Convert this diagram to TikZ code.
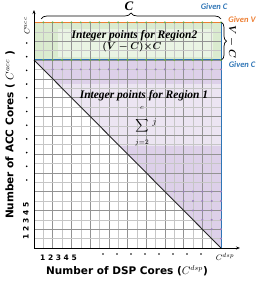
\documentclass[tikz,border=0pt]{standalone}
\usepackage{fontspec}
\usepackage{amsmath}
\setmainfont{Liberation Serif}
\newfontfamily\dvs{DejaVu Sans}
\newfontfamily\carl{Carlito}
\usetikzlibrary{arrows.meta,decorations.pathreplacing}
\definecolor{myblue}{HTML}{2E75B6}
\definecolor{myorange}{HTML}{ED7D31}
\definecolor{mygreen}{HTML}{DAEBCF}
\definecolor{mypurple}{HTML}{DDD0E9}
\definecolor{gdot}{HTML}{70AD47}
\definecolor{pdot}{HTML}{9A7FBE}
\tikzset{
  gdark/.style={draw=gray!85,line width=0.45pt},
  glight/.style={draw=gray!45,line width=0.45pt},
  axisline/.style={draw=black,line width=0.9pt,-{Stealth[length=4pt,width=3pt]}},
  givenlbl/.style={font=\carl\bfseries\itshape\fontsize{8.5}{9}\selectfont,inner sep=0pt},
  regionlbl/.style={font=\bfseries\itshape\fontsize{11.5}{13}\selectfont,inner sep=0pt},
  axislbl/.style={font=\dvs\bfseries\fontsize{10.5}{12}\selectfont,inner sep=0pt},
  ticklbl/.style={font=\dvs\bfseries\fontsize{7.5}{8}\selectfont,inner sep=0pt},
  sumpart/.style={inner sep=0pt,font=\fontsize{9.5}{11}\selectfont},
  bracestyle/.style={decorate,line width=0.7pt}
}
\begin{document}
\begin{tikzpicture}[x=1pt,y=-1pt]
\useasboundingbox (0,0) rectangle (262,283);
% region fills
\fill[mygreen] (34,22.4) rectangle (221,60);
\fill[mypurple] (34,60) -- (221,60) -- (221,248) -- cycle;
\fill[white,opacity=0.45] (58,29) rectangle (213,57);
\begin{scope}
  \clip (34,60) -- (221,60) -- (221,248) -- cycle;
  \fill[white,opacity=0.45] (34,84) rectangle (221,146);
\end{scope}
% grid
\foreach \i in {0,2,...,20}{\draw[gdark] ({34+\i*9.35},248) -- ({34+\i*9.35},22.4);}
\foreach \i in {1,3,...,19}{\draw[glight] ({34+\i*9.35},248) -- ({34+\i*9.35},22.4);}
\foreach \j in {0,2,...,24}{\draw[gdark] (34,{248-\j*9.4}) -- (221,{248-\j*9.4});}
\foreach \j in {1,3,...,23}{\draw[glight] (34,{248-\j*9.4}) -- (221,{248-\j*9.4});}
% diagonal
\coordinate (dA) at (34,60);
\coordinate (dB) at (221,248);
\draw[black!85,line width=0.9pt] (dA) -- (dB);
% coloured lines
\coordinate (oL) at (34,22.4);
\coordinate (oR) at (221,22.4);
\coordinate (bL) at (34,60);
\coordinate (bR) at (221,60);
\coordinate (vB) at (221,248);
\draw[myorange,line width=1pt] (oL) -- (oR);
\draw[myblue,line width=1pt] (bL) -- (bR);
\draw[myblue,line width=1pt] (oR) -- (vB);
% dots
\foreach \i in {1,...,20}{
  \fill[gdot] ({34+\i*9.35},22.4) circle (1.1);
  \fill[gdot] ({34+\i*9.35},60) circle (1.1);
}
\foreach \i in {2,...,20}{\fill[pdot] ({34+\i*9.35},{248-19*9.4}) circle (1.1);}
\foreach \j in {1,...,6}{
  \pgfmathtruncatemacro\s{21-\j}
  \foreach \i in {\s,...,20}{\fill[pdot] ({34+\i*9.35},{248-\j*9.4}) circle (1.1);}
}
% axes
\coordinate (O) at (34,248);
\coordinate (xe) at (240,248);
\coordinate (ye) at (34,10);
\draw[axisline] (O) -- (xe);
\draw[axisline] (O) -- (ye);
% braces
\coordinate (tb1) at (41,19);
\coordinate (tb2) at (221,19);
\draw[bracestyle,decoration={brace,amplitude=6pt}] (tb1) -- (tb2);
\coordinate (rb1) at (221.5,22.4);
\coordinate (rb2) at (221.5,60);
\draw[bracestyle,decoration={brace,amplitude=5pt}] (rb1) -- (rb2);
% labels
\node[regionlbl,font=\bfseries\itshape\fontsize{13}{14}\selectfont] (cTop) at (129,6) {C};
\node[givenlbl,text=myblue] (gc1) at (214,6.5) {Given C};
\node[givenlbl,text=myorange] (gv) at (242,19.5) {Given V};
\node[givenlbl,text=myblue] (gc2) at (242,65) {Given C};
\node[regionlbl,rotate=-90,font=\bfseries\fontsize{10}{12}\selectfont] (vc) at (232,42) {$\boldsymbol{V-C}$};
\node[regionlbl] (r2) at (134.5,36) {Integer points for Region2};
\node[regionlbl,font=\bfseries\fontsize{10}{12}\selectfont] (r2f) at (132,47.5) {$\boldsymbol{(V-C){\times}C}$};
\node[regionlbl] (r1) at (144,96) {Integer points for Region 1};
% sum built from parts
\node[sumpart] (sumS) at (142,125.5) {$\displaystyle\sum$};
\node[sumpart,font=\fontsize{7}{8}\selectfont] (sumT) at (142,108) {$c$};
\node[sumpart,font=\fontsize{7}{8}\selectfont] (sumB) at (142,142.5) {$j{=}2$};
\node[sumpart] (sumJ) at (154.5,122) {$j$};
% axis labels
\node[axislbl] (xl) at (127,271) {Number of DSP Cores ($C^{dsp}$)};
\node[axislbl,rotate=90] (yl) at (10,135) {Number of ACC Cores ( $C^{acc}$ )};
\node[ticklbl] (xt) at (58.5,258) {1 2 3 4 5};
\node[ticklbl,rotate=90] (yt) at (26,221) {1 2 3 4 5};
\node[inner sep=0pt,font=\fontsize{8.5}{9}\selectfont] (cdsp) at (225,257) {$C^{dsp}$};
\node[inner sep=0pt,rotate=90,font=\fontsize{8.5}{9}\selectfont] (cacc) at (27,26) {$C^{acc}$};
\foreach \k in {0,...,7}{\fill[black] ({103+\k*14},254) circle (0.9);}
\foreach \k in {0,...,10}{\fill[black] (26.7,{43+\k*13.7}) circle (0.9);}
\end{tikzpicture}
\end{document}
